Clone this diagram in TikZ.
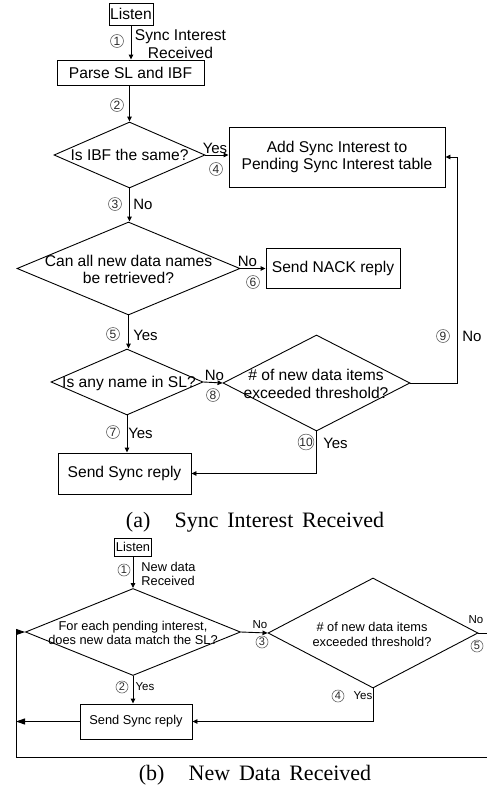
\documentclass[tikz,border=0pt]{standalone}
\usepackage{fontspec}
\setmainfont{Liberation Sans}
\newfontfamily\capfont{Liberation Serif}
\usetikzlibrary{shapes.geometric,arrows.meta}
\begin{document}
\begin{tikzpicture}[x=1pt,y=-1pt,line width=0.9pt,
  fa/.style={font=\fontsize{15.6}{17.5}\selectfont},
  fal/.style={font=\fontsize{15}{17}\selectfont, inner sep=0pt},
  fb/.style={font=\fontsize{12.8}{14.5}\selectfont},
  fbl/.style={font=\fontsize{11.5}{13}\selectfont, inner sep=0pt},
  box/.style={draw, rectangle, inner sep=0pt},
  dia/.style={draw, diamond, inner sep=0pt},
  num/.style={circle, draw=black!60, line width=0.6pt, inner sep=0pt, minimum size=13pt, font=\fontsize{12}{12}\selectfont, text=black!85},
  numb/.style={num, minimum size=12pt, font=\fontsize{11}{11}\selectfont},
  arr/.style={-{Triangle[length=5pt,width=4.5pt]}},
  bigarr/.style={-{Triangle[length=9pt,width=6pt]}},
  capt/.style={font=\capfont\fontsize{22}{26}\selectfont}
]
\useasboundingbox (0,0) rectangle (487,798);
% ---------- (a) ----------
\node[box, fa, minimum width=44pt, minimum height=22pt] (la) at (131,14) {Listen};
\node[box, fa, minimum width=147pt, minimum height=25pt] (parse) at (130.5,72.5) {Parse SL and IBF};
\node[dia, minimum width=151pt, minimum height=66pt] (d1) at (129.5,155) {};
\node[fa] (d1t) at (129.5,155) {Is IBF the same?};
\node[box, fa, align=center, minimum width=216pt, minimum height=60pt] (add) at (337,157) {Add Sync Interest to\\Pending Sync Interest table};
\node[dia, minimum width=223pt, minimum height=93pt] (d2) at (128.5,268.5) {};
\node[fa, align=center] (d2t) at (128.5,269.5) {Can all new data names\\be retrieved?};
\node[box, fa, minimum width=134pt, minimum height=40pt] (nack) at (333,268) {Send NACK reply};
\node[dia, minimum width=152pt, minimum height=66pt] (d3) at (127,382) {};
\node[fa] (d3t) at (129,383) {Is any name in SL?};
\node[dia, minimum width=187pt, minimum height=96pt] (d4) at (316.5,383) {};
\node[fa, align=center] (d4t) at (316,384) {\# of new data items\\exceeded threshold?};
\node[box, fa, minimum width=133pt, minimum height=41pt] (synca) at (124.5,473.5) {Send Sync reply};
\coordinate (ra) at (457,383);

\draw[arr] (la.south) -- (la.south |- parse.north);
\draw[arr] (parse.south -| d1.north) -- (d1.north);
\draw[arr] (d1.east) -- (d1.east -| add.west);
\draw[arr] (d1.south) -- (d1.south |- d2.north);
\draw[arr] (d2.east) -- (d2.east -| nack.west);
\draw[arr] (d2.south) -- (d2.south |- d3.north);
\draw[arr] (d3.east) -- (d4.west);
\draw[arr] (d3.south) -- (d3.south |- synca.north);
\draw[arr] (d4.east) -- (ra) |- (add.east);
\draw[arr] (d4.south) |- (synca.east);

\node[num] (n1) at (117,41) {1};
\node[fa, align=center, inner sep=0pt] (l1) at (180.5,44) {Sync Interest\\Received};
\node[num] (n2) at (117,105) {2};
\node[fal] (y4) at (215,148) {Yes};
\node[num] (n4) at (216,169) {4};
\node[num] (n3) at (115,204) {3};
\node[fal] (no3) at (143,204) {No};
\node[fal] (no6) at (247.5,261) {No};
\node[num] (n6) at (253,282) {6};
\node[num] (n5) at (113,334) {5};
\node[fal] (y5) at (145.5,335) {Yes};
\node[num] (n9) at (443,336) {9};
\node[fal] (no9) at (472,336) {No};
\node[fal] (no8) at (214.5,375) {No};
\node[num] (n8) at (213,395) {8};
\node[num] (n7) at (113,432) {7};
\node[fal] (y7) at (140.5,433) {Yes};
\node[num] (n10) at (306,442) {10};
\node[fal] (y10) at (335.5,443) {Yes};
\node[capt] (capa) at (255,522) {(a)\hspace{1.1em}Sync\hspace{0.4em}Interest\hspace{0.4em}Received};

% ---------- (b) ----------
\node[box, fb, minimum width=37pt, minimum height=18pt] (lb) at (133,547) {Listen};
\node[dia, minimum width=215pt, minimum height=87pt] (db1) at (133,632) {};
\node[fb, align=center] (db1t) at (133,633) {For each pending interest,\\does new data match the SL?};
\node[dia, minimum width=210pt, minimum height=110pt] (db2) at (373,633) {};
\node[fb, align=center] (db2t) at (372,634.5) {\# of new data items\\exceeded threshold?};
\node[box, fb, minimum width=112pt, minimum height=35pt] (syncb) at (136,721.5) {Send Sync reply};
\coordinate (rb) at (492,757);
\coordinate (lbot) at (16,757);

\draw[arr] (lb.south) -- (lb.south |- db1.north);
\draw[arr] (db1.east) -- (db2.west);
\draw[arr] (db1.south) -- (db1.south |- syncb.north);
\draw[arr] (db2.south) |- (syncb.east);
\draw[bigarr] (db2.east) -| (rb) -- (lbot) |- (db1.west);
\draw[bigarr] (syncb.west) -- (syncb.west -| lbot);

\node[numb] (m1) at (124,570) {1};
\node[fb, align=left, inner sep=0pt, anchor=west] (lb1) at (141,574) {New data\\Received};
\node[fbl] (nob3) at (260,625) {No};
\node[numb] (m3) at (262,642) {3};
\node[fbl] (nob5) at (476,620) {No};
\node[numb] (m5) at (477,646) {5};
\node[numb] (m2) at (122,687) {2};
\node[fbl] (yb2) at (145,687) {Yes};
\node[numb] (m4) at (338,696) {4};
\node[fbl] (yb4) at (363,696) {Yes};
\node[capt] (capb) at (255,775) {(b)\hspace{1.1em}New\hspace{0.4em}Data\hspace{0.4em}Received};
\end{tikzpicture}
\end{document}
